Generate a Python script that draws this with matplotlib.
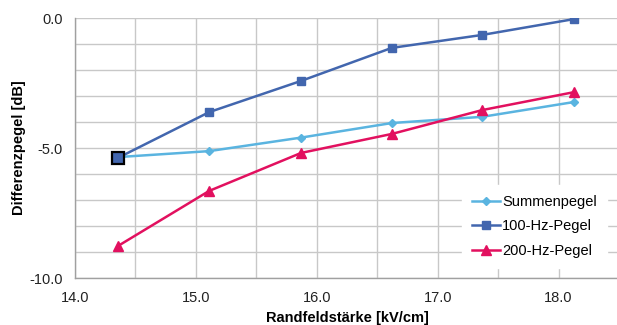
import matplotlib
matplotlib.use("Agg")
import matplotlib.pyplot as plt
from matplotlib.ticker import MultipleLocator, FixedLocator

plt.rcParams['font.family'] = ['Liberation Sans', 'DejaVu Sans']

x = [14.355, 15.11, 15.87, 16.62, 17.37, 18.13]
summen = [-5.35, -5.12, -4.60, -4.04, -3.80, -3.23]
hz100 = [-5.38, -3.62, -2.42, -1.15, -0.65, -0.04]
hz200 = [-8.77, -6.65, -5.19, -4.46, -3.54, -2.85]
xticks = [14.0, 15.0, 16.0, 17.0, 18.0]
yticks = [0.0, -5.0, -10.0]

c_sum = '#5AB4E0'
c_100 = '#4266AE'
c_200 = '#E2105F'

fig = plt.figure(figsize=(6.17, 3.25), dpi=100)
ax = fig.add_axes([75/617, 1-278/325, 544/617, 260/325])

ax.plot(x, summen, color=c_sum, lw=1.8, marker='D', ms=4.2, label='Summenpegel', zorder=3)
ax.plot(x, hz100, color=c_100, lw=1.8, marker='s', ms=6, label='100-Hz-Pegel', zorder=4)
ax.plot(x, hz200, color=c_200, lw=1.8, marker='^', ms=6.5, label='200-Hz-Pegel', zorder=3)
ax.plot(x[:1], hz100[:1], linestyle='none', marker='s', ms=8, mfc=c_100, mec='black', mew=1.6, zorder=5)

ax.set_xlim(14.0, 18.5)
ax.set_ylim(-10.0, 0.0)
ax.xaxis.set_major_locator(FixedLocator(xticks))
ax.yaxis.set_major_locator(FixedLocator(yticks))
ax.xaxis.set_minor_locator(MultipleLocator(0.5))
ax.yaxis.set_minor_locator(MultipleLocator(1.0))
ax.set_xticklabels([f'{v:.1f}' for v in xticks])
ax.set_yticklabels([f'{v:.1f}' for v in yticks])
ax.grid(True, which='both', color='#C8C8C8', lw=1.0, zorder=0)
ax.set_axisbelow(True)
ax.tick_params(which='both', length=0, labelsize=10.5, colors='#222222')
ax.tick_params(axis='y', pad=9)
ax.tick_params(axis='x', pad=9)
for s in ['top', 'right']:
    ax.spines[s].set_visible(False)
for s in ['left', 'bottom']:
    ax.spines[s].set_color('#A0A0A0')
    ax.spines[s].set_linewidth(1.0)

ax.set_xlabel('Randfeldstärke [kV/cm]', fontsize=10.5, fontweight='bold', labelpad=5)
ax.set_ylabel('Differenzpegel [dB]', fontsize=10.5, fontweight='bold', labelpad=2)

leg = ax.legend(loc='lower right', bbox_to_anchor=(0.978, 0.038), frameon=True, fontsize=10.5,
                handlelength=1.9, borderpad=0.7, labelspacing=0.72, handletextpad=0.15,
                borderaxespad=0)
leg.get_frame().set_facecolor('white')
leg.get_frame().set_edgecolor('white')
leg.get_frame().set_alpha(1.0)
leg.get_frame().set_boxstyle('square', pad=0)

fig.savefig('out.png', dpi=100)
